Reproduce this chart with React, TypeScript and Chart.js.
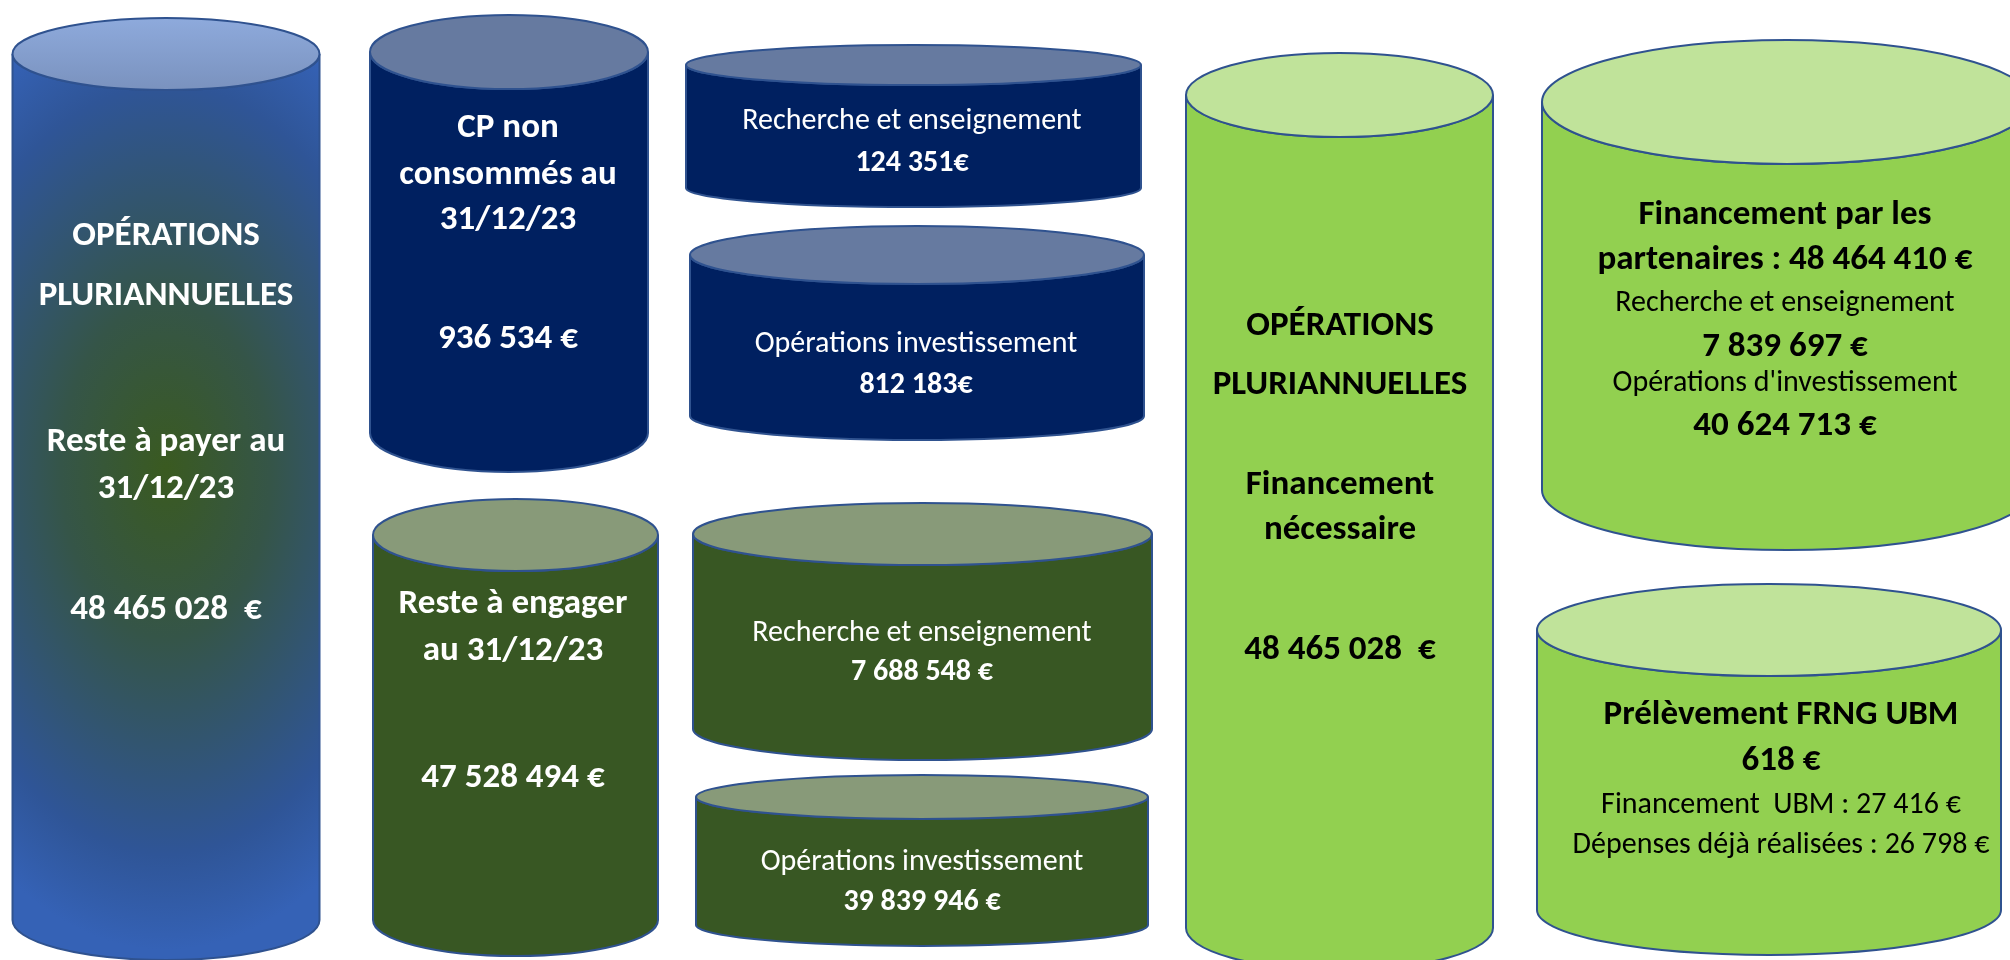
import React, { useEffect, useRef } from "react";
import { Chart, registerables } from "chart.js";

Chart.register(...registerables);

const W = 2010;
const H = 960;

// ---------- data (texts & amounts) ----------
const resteAPayerLines = ["OPÉRATIONS", "PLURIANNUELLES", "Reste à payer au", "31/12/23", "48 465 028  €"];
const cpNonConsommesLines = ["CP non", "consommés au", "31/12/23", "936 534 €"];
const cpRechercheLines = ["Recherche et enseignement", "124 351€"];
const cpInvestLines = ["Opérations investissement", "812 183€"];
const resteAEngagerLines = ["Reste à engager", "au 31/12/23", "47 528 494 €"];
const engRechercheLines = ["Recherche et enseignement", "7 688 548 €"];
const engInvestLines = ["Opérations investissement", "39 839 946 €"];
const financementNecessaireLines = ["OPÉRATIONS", "PLURIANNUELLES", "Financement", "nécessaire", "48 465 028  €"];
const partenairesLines = [
  "Financement par les",
  "partenaires : 48 464 410 €",
  "Recherche et enseignement",
  "7 839 697 €",
  "Opérations d'investissement",
  "40 624 713 €",
];
const frngLines = ["Prélèvement FRNG UBM", "618 €", "Financement  UBM : 27 416 €", "Dépenses déjà réalisées : 26 798 €"];

// ---------- layout (positions / sizes / styles) ----------
const FONT = "Carlito, 'Liberation Sans Narrow', 'DejaVu Sans Condensed', 'Open Sans', sans-serif";
const STYLE_FONT: Record<string, string> = {
  B: `bold 35px ${FONT}`,
  b: `bold 30px ${FONT}`,
  r: `30px ${FONT}`,
};
const TEXT_DY = 3;

const THEMES: Record<string, { body: string; top: string; text: string }> = {
  gradient: { body: "#2F5597", top: "#8AA5D6", text: "#FFFFFF" },
  navy: { body: "#002060", top: "#667AA0", text: "#FFFFFF" },
  dark: { body: "#385723", top: "#889A79", text: "#FFFFFF" },
  light: { body: "#92D050", top: "#C0E39A", text: "#000000" },
};

type Cyl = {
  lines: string[];
  cx: number;
  rx: number;
  top: number;
  bot: number;
  ryT: number;
  ryB: number;
  theme: string;
  tx: number;
  ly: number[];
  ls: string;
};

const LAYOUT: Cyl[] = [
  { lines: resteAPayerLines, cx: 166, rx: 153.5, top: 54, bot: 920, ryT: 36, ryB: 40, theme: "gradient", tx: 166, ly: [233, 293, 439, 486, 607], ls: "BBBBB" },
  { lines: cpNonConsommesLines, cx: 509, rx: 139, top: 52, bot: 433, ryT: 37, ryB: 39, theme: "navy", tx: 508, ly: [125, 172, 217, 336], ls: "BBBB" },
  { lines: cpRechercheLines, cx: 913.5, rx: 227.5, top: 65, bot: 188, ryT: 20, ryB: 19, theme: "navy", tx: 912, ly: [118, 160], ls: "rb" },
  { lines: cpInvestLines, cx: 917, rx: 227, top: 255, bot: 416, ryT: 29, ryB: 24, theme: "navy", tx: 916, ly: [341, 382], ls: "rb" },
  { lines: resteAEngagerLines, cx: 515.5, rx: 142.5, top: 535, bot: 920, ryT: 36, ryB: 36, theme: "dark", tx: 513, ly: [601, 648, 775], ls: "BBB" },
  { lines: engRechercheLines, cx: 922.5, rx: 229.5, top: 534, bot: 729, ryT: 31, ryB: 31, theme: "dark", tx: 922, ly: [630, 669], ls: "rb" },
  { lines: engInvestLines, cx: 922, rx: 226, top: 797, bot: 925, ryT: 22, ryB: 21, theme: "dark", tx: 922, ly: [859, 899], ls: "rb" },
  { lines: financementNecessaireLines, cx: 1339.5, rx: 153.5, top: 95, bot: 928, ryT: 42, ryB: 42, theme: "light", tx: 1340, ly: [323, 382, 482, 527, 647], ls: "BBBBB" },
  { lines: partenairesLines, cx: 1787, rx: 245, top: 102, bot: 490, ryT: 62, ryB: 60, theme: "light", tx: 1785, ly: [212, 257, 300, 344, 380, 423], ls: "BBrBrB" },
  { lines: frngLines, cx: 1769, rx: 232, top: 630, bot: 910, ryT: 46, ryB: 45, theme: "light", tx: 1781, ly: [712, 758, 802, 842], ls: "BBrr" },
];

const OUTLINE = "#2F528F";

const cylinderPlugin = {
  id: "cylinders",
  afterDatasetsDraw(chart: any) {
    const ctx: CanvasRenderingContext2D = chart.ctx;
    const xs = chart.scales.x;
    const ys = chart.scales.y;
    chart.data.datasets.forEach((ds: any, i: number) => {
      const meta = chart.getDatasetMeta(i);
      const el = meta.data[0];
      if (!el) return;
      const c: Cyl = LAYOUT[i];
      const p = el.getProps(["x", "y", "base", "width"], true);
      const cx = p.x;
      const rx = p.width / 2;
      const topC = Math.min(p.y, p.base);
      const botC = Math.max(p.y, p.base);
      const ryT = Math.abs(ys.getPixelForValue(c.top + c.ryT) - ys.getPixelForValue(c.top));
      const ryB = Math.abs(ys.getPixelForValue(c.bot + c.ryB) - ys.getPixelForValue(c.bot));
      const th = THEMES[c.theme];
      const left = cx - rx;
      const right = cx + rx;

      ctx.save();
      // body
      ctx.beginPath();
      ctx.moveTo(left, topC);
      ctx.lineTo(left, botC);
      ctx.ellipse(cx, botC, rx, ryB, 0, Math.PI, 0, true);
      ctx.lineTo(right, topC);
      ctx.ellipse(cx, topC, rx, ryT, 0, 0, Math.PI, false);
      ctx.closePath();
      if (c.theme === "gradient") {
        const midY = ys.getPixelForValue(470);
        ctx.save();
        ctx.translate(cx, midY);
        ctx.scale(1, 1.6);
        const g = ctx.createRadialGradient(0, 0, 0, 0, 0, 300);
        g.addColorStop(0, "#3A5A20");
        g.addColorStop(0.35, "#355548");
        g.addColorStop(0.8, "#2F5597");
        g.addColorStop(1, "#3562B6");
        ctx.fillStyle = g;
        ctx.fill();
        ctx.restore();
      } else {
        ctx.fillStyle = th.body;
        ctx.fill();
      }
      ctx.lineWidth = 2;
      ctx.strokeStyle = OUTLINE;
      ctx.stroke();

      // top ellipse
      ctx.beginPath();
      ctx.ellipse(cx, topC, rx, ryT, 0, 0, Math.PI * 2);
      if (c.theme === "gradient") {
        const g2 = ctx.createLinearGradient(0, topC - ryT, 0, topC + ryT);
        g2.addColorStop(0, "#8EAADC");
        g2.addColorStop(1, "#7A92BE");
        ctx.fillStyle = g2;
      } else {
        ctx.fillStyle = th.top;
      }
      ctx.fill();
      ctx.stroke();
      ctx.restore();
    });

    // texts
    chart.data.datasets.forEach((ds: any, i: number) => {
      const c: Cyl = LAYOUT[i];
      const th = THEMES[c.theme];
      ctx.save();
      ctx.fillStyle = th.text;
      ctx.textAlign = "center";
      ctx.textBaseline = "middle";
      c.lines.forEach((t, k) => {
        ctx.font = STYLE_FONT[c.ls[k]];
        ctx.fillText(t, xs.getPixelForValue(c.tx), ys.getPixelForValue(c.ly[k]) + TEXT_DY);
      });
      ctx.restore();
    });
  },
};

export default function App() {
  const ref = useRef<HTMLCanvasElement | null>(null);
  useEffect(() => {
    if (!ref.current) return;
    const chart = new Chart(ref.current, {
      type: "bar",
      data: {
        datasets: LAYOUT.map((c, i) => ({
          label: "c" + i,
          data: [{ x: c.cx, y: [c.top, c.bot] }],
          barThickness: c.rx * 2,
          backgroundColor: "rgba(0,0,0,0)",
          borderWidth: 0,
          grouped: false,
        })) as any,
      },
      options: {
        animation: false,
        responsive: false,
        devicePixelRatio: 1,
        layout: { padding: 0 },
        plugins: { legend: { display: false }, tooltip: { enabled: false } },
        scales: {
          x: { type: "linear", min: 0, max: W, display: false, offset: false },
          y: { type: "linear", min: 0, max: H, reverse: true, display: false },
        },
      },
      plugins: [cylinderPlugin],
    });
    return () => chart.destroy();
  }, []);
  return (
    <div style={{ position: "absolute", left: 0, top: 0, width: W, height: H, background: "#FFFFFF" }}>
      <canvas ref={ref} width={W} height={H} style={{ display: "block", width: W, height: H }} />
    </div>
  );
}
